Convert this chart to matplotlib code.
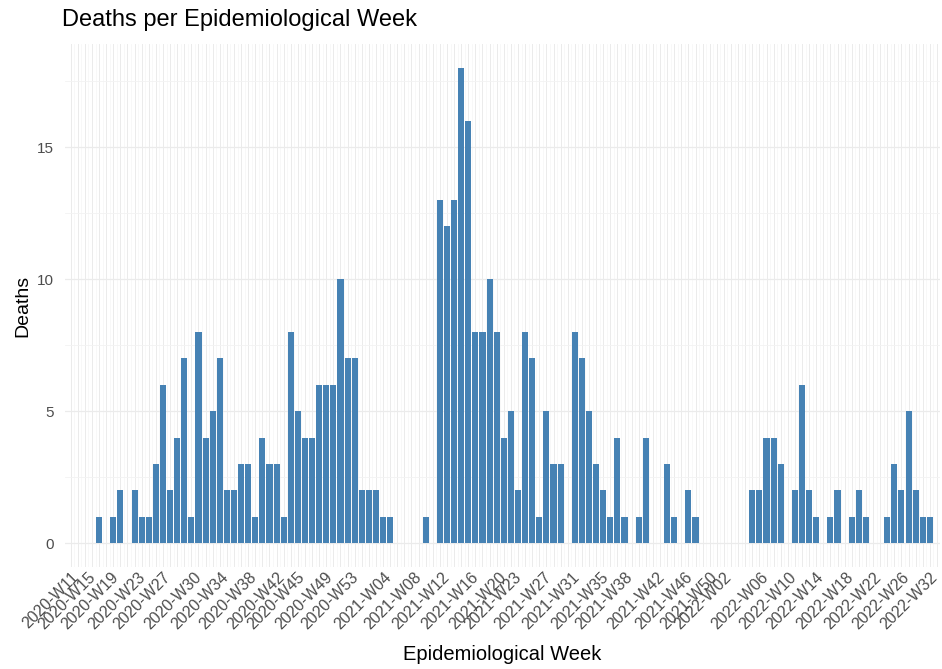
import numpy as np
import matplotlib
matplotlib.use("Agg")
import matplotlib.pyplot as plt

plt.rcParams["font.family"] = ["Liberation Sans", "DejaVu Sans"]

# deaths per week, one value per week slot (0 = no bar)
deaths = [
    1, 0, 1, 2, 0, 2, 1, 1, 3, 6,
    2, 4, 7, 1, 8, 4, 5, 7, 2, 2,
    3, 3, 1, 4, 3, 3, 1, 8, 5, 4,
    4, 6, 6, 6, 10, 7, 7, 2, 2, 2,
    1, 1, 0, 0, 0, 0, 1, 0, 13, 12,
    13, 18, 16, 8, 8, 10, 8, 4, 5, 2,
    8, 7, 1, 5, 3, 3, 0, 8, 7, 5,
    3, 2, 1, 4, 1, 0, 1, 4, 0, 0,
    3, 1, 0, 2, 1, 0, 0, 0, 0, 0,
    0, 0, 2, 2, 4, 4, 3, 0, 2, 6,
    2, 1, 0, 1, 2, 0, 1, 2, 1, 0,
    0, 1, 3, 2, 5, 2, 1, 1,
]

tick_labels = [
    "2020-W11", "2020-W15", "2020-W19", "2020-W23", "2020-W27", "2020-W30",
    "2020-W34", "2020-W38", "2020-W42", "2020-W45", "2020-W49", "2020-W53",
    "2021-W04", "2021-W08", "2021-W12", "2021-W16", "2021-W20", "2021-W23",
    "2021-W27", "2021-W31", "2021-W35", "2021-W38", "2021-W42", "2021-W46",
    "2021-W50", "2022-W02", "2022-W06", "2022-W10", "2022-W14", "2022-W18",
    "2022-W22", "2022-W26", "2022-W32",
]
# where each label sits, in week slots
tick_pos = [
    -4.0, -1.6, 1.6, 5.4, 9.0, 13.3,
    17.2, 21.1, 25.0, 27.8, 31.8, 35.4,
    40.1, 44.3, 48.2, 52.3, 56.3, 58.4,
    62.6, 66.5, 70.6, 74.1, 78.5, 82.5,
    86.0, 88.0, 93.2, 97.1, 101.0, 105.1,
    109.1, 113.0, 117.0,
]

deaths = np.array(deaths)
weeks = np.arange(len(deaths))
has = deaths > 0

fig = plt.figure(figsize=(9.42, 6.69), dpi=100)
ax = fig.add_axes([0.069, 0.1525, 0.929, 0.7815])

xmin, xmax = -4.8, 118.45
ax.set_xlim(xmin, xmax)
ax.set_ylim(-0.9, 18.9)

# grid like theme_minimal
for x in np.arange(np.ceil(xmin), xmax, 1.0):
    ax.axvline(x, color="#EBEBEB", lw=0.7, zorder=0)
for x in np.arange(np.ceil(xmin) + 0.5, xmax, 1.0):
    ax.axvline(x, color="#F5F5F5", lw=0.5, zorder=0)
for y in [0, 5, 10, 15]:
    ax.axhline(y, color="#EBEBEB", lw=0.9, zorder=0)
for y in [2.5, 7.5, 12.5, 17.5]:
    ax.axhline(y, color="#F3F3F3", lw=0.6, zorder=0)

ax.bar(weeks[has], deaths[has], width=0.85, color="#4682B4", zorder=2)

ax.set_yticks([0, 5, 10, 15])
ax.set_xticks(tick_pos)
ax.set_xticklabels(tick_labels, rotation=45, ha="right", va="top",
                   rotation_mode="anchor")
ax.tick_params(axis="both", length=0, colors="#4D4D4D")
ax.tick_params(axis="x", pad=2, labelsize=11.5)
ax.tick_params(axis="y", pad=8, labelsize=11)
for s in ax.spines.values():
    s.set_visible(False)

ax.set_xlabel("Epidemiological Week", fontsize=14.5, labelpad=9)
ax.set_ylabel("Deaths", fontsize=14, labelpad=4)
fig.text(0.066, 0.953, "Deaths per Epidemiological Week", fontsize=17,
         ha="left", va="bottom")

fig.savefig("out.png", dpi=100)
